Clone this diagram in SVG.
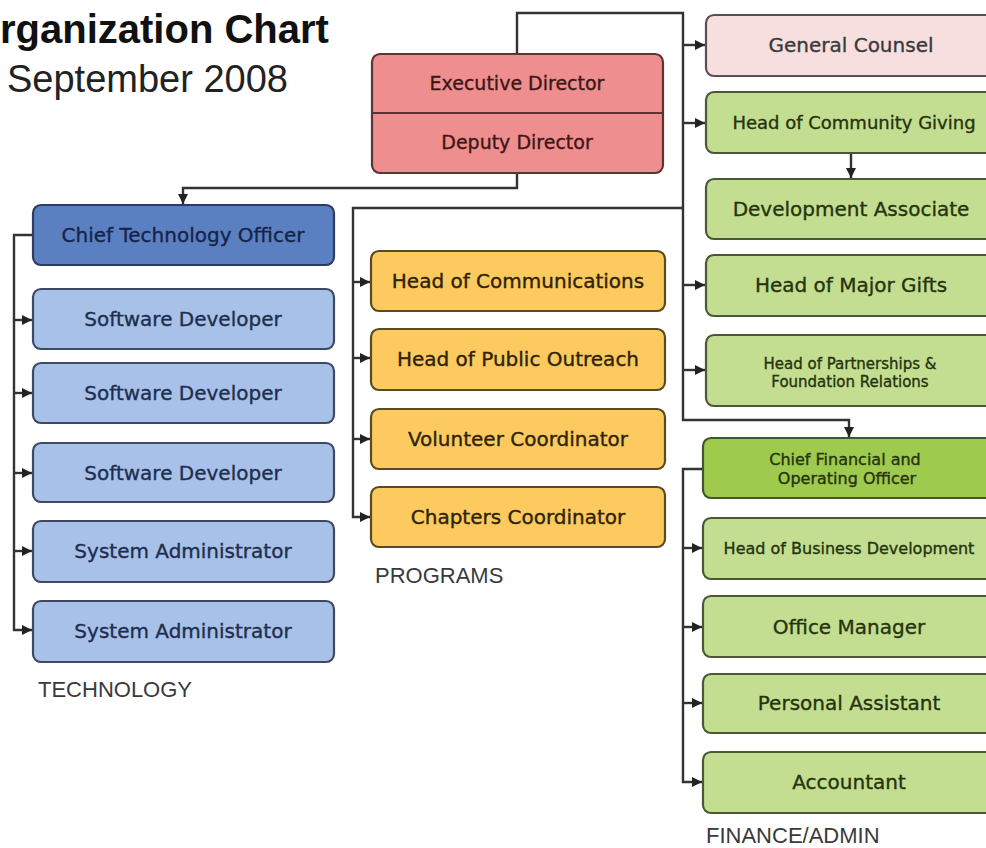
<svg xmlns="http://www.w3.org/2000/svg" width="986" height="848" viewBox="0 0 986 848">
<style>
.box{stroke-width:2.2}
.t{font-family:"DejaVu Sans",sans-serif;font-size:20px;text-anchor:middle;stroke-width:0.35}
.s19{font-size:19px}.s18{font-size:18px}.s16{font-size:16px}.s15{font-size:15px}
.lbl{font-family:"Liberation Sans",Arial,sans-serif;font-size:22px;fill:#3a3a3a}
.exec{fill:#ef8e8e;stroke:#5a3535}
.gc{fill:#f7dfdf;stroke:#5a5050}
.grn{fill:#c3de90;stroke:#4a5838}
.cfo{fill:#9ecb4e;stroke:#44552c}
.cto{fill:#5b80c2;stroke:#2c3c5c}
.tech{fill:#a7c1e8;stroke:#3c4a64}
.prog{fill:#fcca5e;stroke:#5a4a24}
.te{fill:#3e1616;stroke:#3e1616}.tg{fill:#3a3a3a;stroke:#3a3a3a}.tgr{fill:#26330f;stroke:#26330f}.tc{fill:#16244a;stroke:#16244a}.tt{fill:#1f2e4e;stroke:#1f2e4e}.tp{fill:#2e2206;stroke:#2e2206}
.ln{fill:none;stroke:#333;stroke-width:2.4}
</style>
<defs>
<marker id="ah" viewBox="0 0 10 10" refX="10" refY="5" markerWidth="10" markerHeight="10" markerUnits="userSpaceOnUse" orient="auto">
<path d="M0,0 L10,5 L0,10 z" fill="#222"/>
</marker>
</defs>
<rect width="986" height="848" fill="#fff"/>
<g id="title">
<text x="0" y="43" font-family="Liberation Sans, Arial, sans-serif" font-size="40" font-weight="bold" fill="#111">rganization Chart</text>
<text x="7" y="92" font-family="Liberation Sans, Arial, sans-serif" font-size="38" fill="#222">September 2008</text>
</g>
<g id="connectors">
<path class="ln" d="M517,54 V13 H683 V420 H849 V437" marker-end="url(#ah)"/>
<path class="ln" d="M683,45 H705" marker-end="url(#ah)"/>
<path class="ln" d="M683,123 H705" marker-end="url(#ah)"/>
<path class="ln" d="M683,285 H705" marker-end="url(#ah)"/>
<path class="ln" d="M683,370 H705" marker-end="url(#ah)"/>
<path class="ln" d="M851,153 V178" marker-end="url(#ah)"/>
<path class="ln" d="M683,208 H353 V517 H370" marker-end="url(#ah)"/>
<path class="ln" d="M353,282 H370" marker-end="url(#ah)"/>
<path class="ln" d="M353,358 H370" marker-end="url(#ah)"/>
<path class="ln" d="M353,439 H370" marker-end="url(#ah)"/>
<path class="ln" d="M517,173 V188 H183 V204" marker-end="url(#ah)"/>
<path class="ln" d="M33,235 H14 V630 H32" marker-end="url(#ah)"/>
<path class="ln" d="M14,320 H32" marker-end="url(#ah)"/>
<path class="ln" d="M14,393 H32" marker-end="url(#ah)"/>
<path class="ln" d="M14,473 H32" marker-end="url(#ah)"/>
<path class="ln" d="M14,551 H32" marker-end="url(#ah)"/>
<path class="ln" d="M703,469 H683 V782 H702" marker-end="url(#ah)"/>
<path class="ln" d="M683,548 H702" marker-end="url(#ah)"/>
<path class="ln" d="M683,627 H702" marker-end="url(#ah)"/>
<path class="ln" d="M683,703 H702" marker-end="url(#ah)"/>
</g>
<g id="executive-director">
<rect class="box exec" x="372" y="54" width="291" height="119" rx="8"/>
<line x1="372" y1="113" x2="663" y2="113" stroke="#5a3535" stroke-width="2.2"/>
<text class="t te s19" x="517" y="90">Executive Director</text>
<text class="t te s19" x="517" y="149">Deputy Director</text>
</g>
<g id="general-counsel">
<rect class="box gc" x="706" y="15" width="292" height="61" rx="8"/>
<text class="t tg" x="851" y="52">General Counsel</text>
</g>
<g id="head-community-giving">
<rect class="box grn" x="706" y="92" width="292" height="61" rx="8"/>
<text class="t tgr s18" x="854" y="129">Head of Community Giving</text>
</g>
<g id="development-associate">
<rect class="box grn" x="706" y="179" width="292" height="60" rx="8"/>
<text class="t tgr" x="851" y="216">Development Associate</text>
</g>
<g id="head-major-gifts">
<rect class="box grn" x="706" y="255" width="292" height="61" rx="8"/>
<text class="t tgr" x="851" y="292">Head of Major Gifts</text>
</g>
<g id="head-partnerships">
<rect class="box grn" x="706" y="335" width="292" height="71" rx="8"/>
<text class="t tgr s15" x="850" y="369">Head of Partnerships &amp;</text>
<text class="t tgr s15" x="850" y="387">Foundation Relations</text>
</g>
<g id="cfo">
<rect class="box cfo" x="703" y="438" width="295" height="60" rx="8"/>
<text class="t tgr s16" x="845" y="465">Chief Financial and</text>
<text class="t tgr s16" x="847" y="484">Operating Officer</text>
</g>
<g id="head-business-development">
<rect class="box grn" x="703" y="518" width="295" height="61" rx="8"/>
<text class="t tgr s16" x="849" y="554">Head of Business Development</text>
</g>
<g id="office-manager">
<rect class="box grn" x="703" y="596" width="295" height="61" rx="8"/>
<text class="t tgr" x="849" y="634">Office Manager</text>
</g>
<g id="personal-assistant">
<rect class="box grn" x="703" y="674" width="295" height="59" rx="8"/>
<text class="t tgr" x="849" y="710">Personal Assistant</text>
</g>
<g id="accountant">
<rect class="box grn" x="703" y="752" width="295" height="61" rx="8"/>
<text class="t tgr" x="849" y="789">Accountant</text>
</g>
<g id="cto">
<rect class="box cto" x="33" y="205" width="301" height="60" rx="8"/>
<text class="t tc" x="183" y="242">Chief Technology Officer</text>
</g>
<g id="software-developer-1">
<rect class="box tech" x="33" y="289" width="301" height="60" rx="8"/>
<text class="t tt" x="183" y="326">Software Developer</text>
</g>
<g id="software-developer-2">
<rect class="box tech" x="33" y="363" width="301" height="60" rx="8"/>
<text class="t tt" x="183" y="400">Software Developer</text>
</g>
<g id="software-developer-3">
<rect class="box tech" x="33" y="443" width="301" height="59" rx="8"/>
<text class="t tt" x="183" y="480">Software Developer</text>
</g>
<g id="system-administrator-1">
<rect class="box tech" x="33" y="521" width="301" height="61" rx="8"/>
<text class="t tt" x="183" y="558">System Administrator</text>
</g>
<g id="system-administrator-2">
<rect class="box tech" x="33" y="601" width="301" height="61" rx="8"/>
<text class="t tt" x="183" y="638">System Administrator</text>
</g>
<g id="head-communications">
<rect class="box prog" x="371" y="251" width="294" height="60" rx="8"/>
<text class="t tp" x="518" y="288">Head of Communications</text>
</g>
<g id="head-public-outreach">
<rect class="box prog" x="371" y="329" width="294" height="61" rx="8"/>
<text class="t tp" x="518" y="366">Head of Public Outreach</text>
</g>
<g id="volunteer-coordinator">
<rect class="box prog" x="371" y="409" width="294" height="60" rx="8"/>
<text class="t tp" x="518" y="446">Volunteer Coordinator</text>
</g>
<g id="chapters-coordinator">
<rect class="box prog" x="371" y="487" width="294" height="60" rx="8"/>
<text class="t tp" x="518" y="524">Chapters Coordinator</text>
</g>
<g id="labels">
<text class="lbl" x="38" y="697">TECHNOLOGY</text>
<text class="lbl" x="375" y="583">PROGRAMS</text>
<text class="lbl" x="706" y="843">FINANCE/ADMIN</text>
</g>
</svg>
